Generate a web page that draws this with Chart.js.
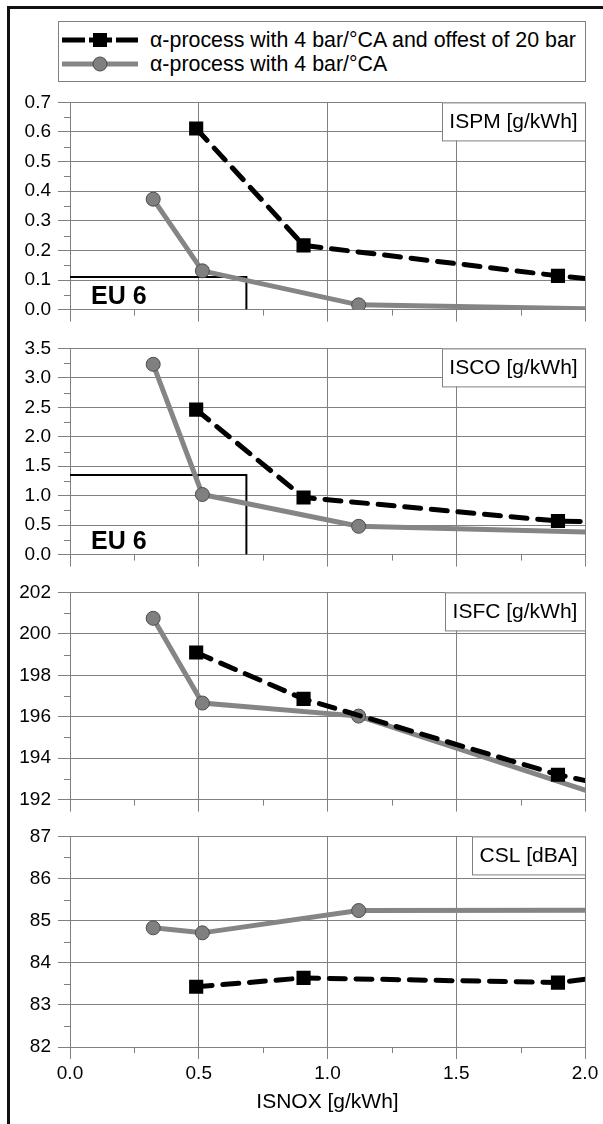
<!DOCTYPE html>
<html>
<head>
<meta charset="utf-8">
<script src="https://cdn.jsdelivr.net/npm/chart.js@4.4.1/dist/chart.umd.min.js"></script>
<style>
  body { margin: 0; background: #fff; font-family: 'Liberation Sans', Arial, sans-serif; }
  #page { position: relative; width: 603px; height: 1124px; overflow: hidden; }
  #frame { position: absolute; left: 7px; top: 6px; width: 620px; height: 1140px; border-left: 3px solid #111; border-top: 3px solid #111; z-index: 2; pointer-events: none; }
  canvas { position: absolute; left: 0; }
  #legend { position: absolute; left: 58px; top: 21px; width: 526px; height: 59px; border: 1px solid #808080; background: #fff; }
  .row { position: absolute; left: 0; height: 24px; }
  .row svg { position: absolute; left: 3px; top: 2px; }
  .row span { position: absolute; left: 91px; top: 0; font-size: 21.4px; line-height: 24px; white-space: nowrap; color: #000; }
</style>
</head>
<body>
<div id="page">
  <div id="frame"></div>
  <div id="legend">
    <div class="row" style="top:6px">
      <svg width="80" height="20"><line x1="0" y1="10" x2="76" y2="10" stroke="#000" stroke-width="5" stroke-dasharray="23 4"/><rect x="31" y="3" width="14" height="14" fill="#000"/></svg>
      <span id="lab0"></span>
    </div>
    <div class="row" style="top:30px">
      <svg width="80" height="20"><line x1="0" y1="10" x2="76" y2="10" stroke="#858585" stroke-width="5"/><circle cx="38" cy="10" r="7" fill="#808080" stroke="#4d4d4d" stroke-width="1"/></svg>
      <span id="lab1"></span>
    </div>
  </div>
  <canvas id="c1"></canvas>
  <canvas id="c2"></canvas>
  <canvas id="c3"></canvas>
  <canvas id="c4"></canvas>
</div>
<script>
// series names
const seriesNames = ['α-process with 4 bar/°CA and offest of 20 bar', 'α-process with 4 bar/°CA'];

// ISNOX [g/kWh] of the points (last one lies past the 2.0 edge)
const noxOffset = [0.49, 0.907, 1.895, 2.4];
const noxPlain = [0.323, 0.514, 1.121, 2.2];

const ispmOffset = [0.612, 0.217, 0.114, 0.071];
const ispmPlain = [0.373, 0.131, 0.016, 0.0];
const iscoOffset = [2.46, 0.97, 0.57, 0.52];
const iscoPlain = [3.23, 1.02, 0.48, 0.36];
const isfcOffset = [199.1, 196.86, 193.2, 191.85];
const isfcPlain = [200.75, 196.66, 196.03, 191.64];
const cslOffset = [83.43, 83.64, 83.53, 83.9];
const cslPlain = [84.83, 84.71, 85.24, 85.25];

// EU 6 limits
const eu6Nox = 0.685;
const eu6Pm = 0.11;
const eu6Co = 1.35;

const panelLabels = ['ISPM [g/kWh]', 'ISCO [g/kWh]', 'ISFC [g/kWh]', 'CSL [dBA]'];
const xTitle = 'ISNOX [g/kWh]';

document.getElementById('lab0').textContent = seriesNames[0];
document.getElementById('lab1').textContent = seriesNames[1];

const gridColor = '#808080';
const FONT = "'Liberation Sans', Arial, sans-serif";
Chart.defaults.font.family = FONT;
Chart.defaults.color = '#000';

// minor tick marks halfway between major ones
const minorTicks = {
  id: 'minorTicks',
  afterDraw(chart) {
    const {ctx, chartArea, scales} = chart;
    const x = scales.x, y = scales.y;
    ctx.save();
    ctx.strokeStyle = gridColor;
    ctx.lineWidth = 1;
    ctx.beginPath();
    for (let i = 0; i < y.ticks.length - 1; i++) {
      const py = Math.round(y.getPixelForValue((y.ticks[i].value + y.ticks[i + 1].value) / 2)) + 0.5;
      ctx.moveTo(chartArea.left - 6, py);
      ctx.lineTo(chartArea.left, py);
    }
    for (let i = 0; i < x.ticks.length - 1; i++) {
      const px = Math.round(x.getPixelForValue((x.ticks[i].value + x.ticks[i + 1].value) / 2)) + 0.5;
      ctx.moveTo(px, chartArea.bottom);
      ctx.lineTo(px, chartArea.bottom + 6);
    }
    ctx.stroke();
    ctx.restore();
  }
};

// boxed quantity name in the corner + EU 6 text
const panelText = {
  id: 'panelText',
  afterDraw(chart, args, opts) {
    const {ctx, chartArea} = chart;
    ctx.save();
    ctx.font = '21px ' + FONT;
    const w = Math.round(ctx.measureText(opts.label).width + 15);
    const h = 38;
    const x0 = chartArea.right - w;
    ctx.fillStyle = '#fff';
    ctx.fillRect(x0, chartArea.top, w, h);
    ctx.strokeStyle = '#808080';
    ctx.lineWidth = 1;
    ctx.strokeRect(x0 + 0.5, chartArea.top + 0.5, w, h);
    ctx.fillStyle = '#000';
    ctx.textAlign = 'center';
    ctx.textBaseline = 'middle';
    ctx.fillText(opts.label, x0 + w / 2, chartArea.top + h / 2 + 1);
    if (opts.eu6) {
      ctx.font = 'bold 25px ' + FONT;
      ctx.textAlign = 'left';
      ctx.fillText('EU 6', chartArea.left + 21, chartArea.bottom - 12);
    }
    ctx.restore();
  }
};

const pts = (xs, ys) => ys.map((v, i) => ({x: xs[i], y: v}));

const panels = [
  {id: 'c1', top: 99, bottom: 313, min: 0, max: 0.7, step: 0.1, dec: 1, a: ispmOffset, b: ispmPlain, eu6: eu6Pm},
  {id: 'c2', top: 345, bottom: 558, min: 0, max: 3.5, step: 0.5, dec: 1, a: iscoOffset, b: iscoPlain, eu6: eu6Co},
  {id: 'c3', top: 589, bottom: 803, min: 192, max: 202, step: 2, dec: 0, a: isfcOffset, b: isfcPlain, eu6: null},
  {id: 'c4', top: 833, bottom: 1047, min: 82, max: 87, step: 1, dec: 0, a: cslOffset, b: cslPlain, eu6: null}
];

panels.forEach((p, idx) => {
  const last = idx === panels.length - 1;
  const padTop = 15;
  const xH = last ? 1124 - p.bottom : 12;
  const padBottom = last ? 0 : 3;
  const canvas = document.getElementById(p.id);
  const h = padTop + (p.bottom - p.top) + xH + padBottom;
  canvas.width = 603;
  canvas.height = h;
  canvas.style.top = (p.top - padTop) + 'px';

  const datasets = [
    {
      label: seriesNames[0],
      data: pts(noxOffset, p.a),
      borderColor: '#000',
      backgroundColor: '#000',
      borderWidth: 5,
      borderDash: [16, 10.7],
      borderCapStyle: 'round',
      pointStyle: 'rect',
      pointRadius: 10,
      pointBorderWidth: 0,
      clip: 0
    },
    {
      label: seriesNames[1],
      data: pts(noxPlain, p.b),
      borderColor: '#858585',
      backgroundColor: '#808080',
      borderWidth: 5,
      pointStyle: 'circle',
      pointRadius: 7,
      pointBorderColor: '#4d4d4d',
      pointBorderWidth: 1,
      clip: 0
    }
  ];
  if (p.eu6 !== null) {
    datasets.push({
      label: 'EU 6',
      data: [{x: 0, y: p.eu6}, {x: eu6Nox, y: p.eu6}, {x: eu6Nox, y: p.min}],
      borderColor: '#000',
      borderWidth: 2,
      pointRadius: 0,
      clip: 0
    });
  }

  new Chart(canvas, {
    type: 'line',
    data: {datasets: datasets},
    options: {
      responsive: false,
      animation: false,
      events: [],
      layout: {padding: {top: padTop, left: 0, right: 18, bottom: padBottom}, autoPadding: false},
      elements: {line: {tension: 0}},
      plugins: {
        legend: {display: false},
        tooltip: {enabled: false},
        panelText: {label: panelLabels[idx], eu6: p.eu6 !== null}
      },
      scales: {
        x: {
          type: 'linear',
          min: 0,
          max: 2,
          ticks: {
            stepSize: 0.5,
            display: last,
            callback: v => v.toFixed(1),
            padding: 3,
            font: {size: 19},
            maxRotation: 0,
            autoSkip: false
          },
          grid: {color: gridColor, tickColor: gridColor, tickLength: 12},
          border: {color: gridColor},
          title: {display: last, text: xTitle, font: {size: 21}, padding: {top: 0, bottom: 9}},
          afterFit(s) { s.height = xH; }
        },
        y: {
          min: p.min,
          max: p.max,
          ticks: {
            stepSize: p.step,
            callback: v => v.toFixed(p.dec),
            padding: 7,
            font: {size: 19}
          },
          grid: {color: gridColor, tickColor: gridColor, tickLength: 12},
          border: {color: gridColor},
          afterFit(s) { s.width = 70; }
        }
      }
    },
    plugins: [minorTicks, panelText]
  });
});
</script>
</body>
</html>
